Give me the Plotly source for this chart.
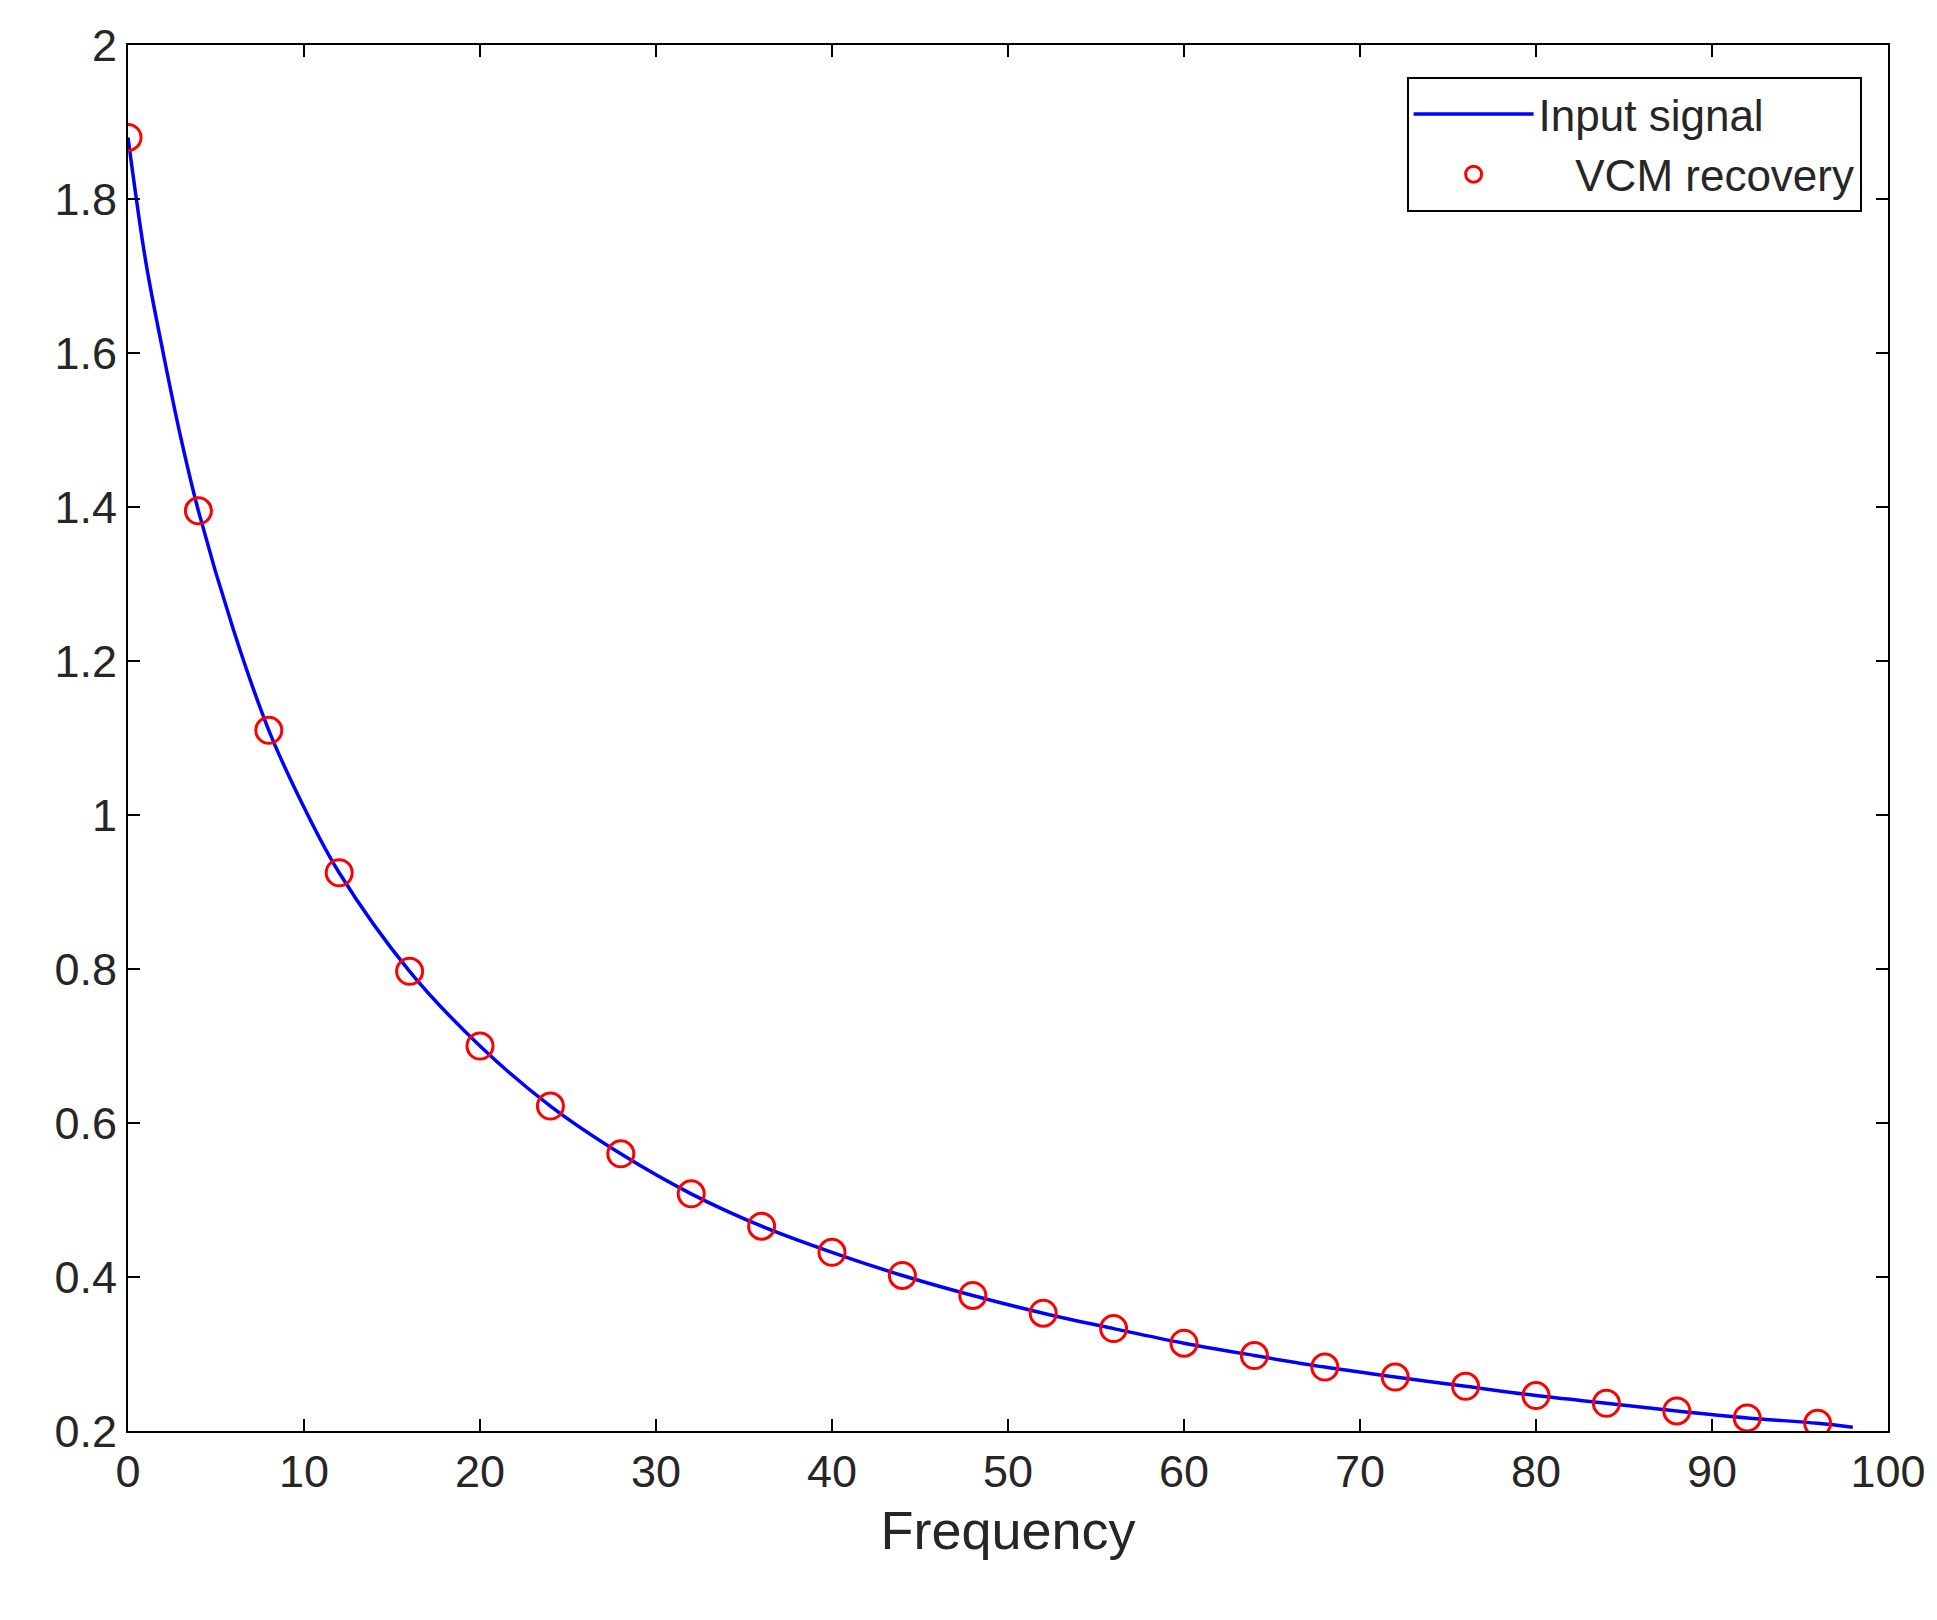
import plotly.graph_objects as go

# input signal samples
freq_line = [0, 1, 2, 3, 4, 6, 8, 10, 12, 16, 20, 24, 28, 32, 36, 40, 44, 48, 52, 56, 60, 64, 68, 72, 76, 80, 84, 88, 92, 96, 98]
sig_line = [1.88, 1.72, 1.60, 1.49, 1.395, 1.24, 1.11, 1.01, 0.925, 0.797, 0.70, 0.622, 0.56, 0.508, 0.466, 0.432,
            0.402, 0.376, 0.353, 0.333, 0.314, 0.298, 0.283, 0.270, 0.258, 0.246, 0.236, 0.226, 0.217, 0.210, 0.205]

# VCM recovery points
freq_pts = [0, 4, 8, 12, 16, 20, 24, 28, 32, 36, 40, 44, 48, 52, 56, 60, 64, 68, 72, 76, 80, 84, 88, 92, 96]
vcm_pts = [1.88, 1.395, 1.11, 0.925, 0.797, 0.70, 0.622, 0.56, 0.508, 0.466, 0.432, 0.402, 0.376, 0.353,
           0.333, 0.314, 0.298, 0.283, 0.270, 0.258, 0.246, 0.236, 0.226, 0.217, 0.210]

fig = go.Figure()
fig.add_trace(go.Scatter(x=freq_line, y=sig_line, mode='lines', name='Input signal',
                         line=dict(color='#0000ff', width=3.5, shape='spline')))
fig.add_trace(go.Scatter(x=freq_pts, y=vcm_pts, mode='markers', name='   VCM recovery',
                         marker=dict(symbol='circle-open', size=26, color='#ff0000', line=dict(width=3))))

axis = dict(showline=True, linecolor='black', linewidth=2, mirror='ticks', ticks='inside', ticklen=12,
            tickwidth=1.5, tickcolor='black', showgrid=False, zeroline=False,
            tickfont=dict(family='Liberation Sans, Arial', size=45, color='#262626'))
fig.update_xaxes(range=[0, 100], dtick=10, title=dict(text='Frequency', font=dict(size=54, color='#262626',
                 family='Liberation Sans, Arial'), standoff=15), **axis)
fig.update_yaxes(range=[0.2, 2], tickvals=[0.2, 0.4, 0.6, 0.8, 1, 1.2, 1.4, 1.6, 1.8, 2],
                 ticktext=['0.2', '0.4', '0.6', '0.8', '1', '1.2', '1.4', '1.6', '1.8', '2'], **axis)

fig.update_layout(
    width=1937, height=1620,
    margin=dict(l=120, r=57, t=37, b=197),
    plot_bgcolor='white', paper_bgcolor='white',
    legend=dict(x=0.985, y=0.977, xanchor='right', yanchor='top', bgcolor='white',
                bordercolor='black', borderwidth=2, itemwidth=120,
                font=dict(family='Liberation Sans, Arial', size=44, color='#262626')),
)
fig.write_html("out.html")
